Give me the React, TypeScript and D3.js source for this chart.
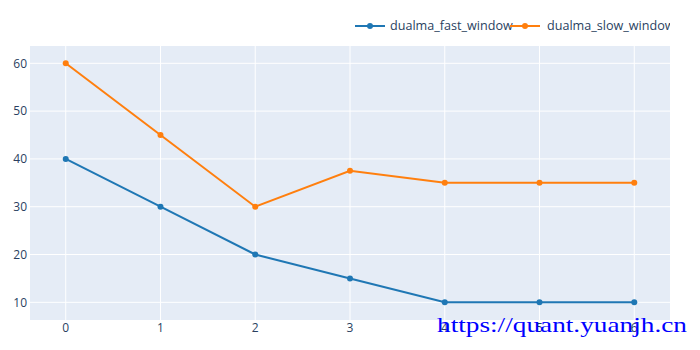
import React from "react";
import * as d3 from "d3";

const xValues = [0, 1, 2, 3, 4, 5, 6];
const fastWindow = [40, 30, 20, 15, 10, 10, 10];
const slowWindow = [60, 45, 30, 37.5, 35, 35, 35];
const seriesNames = ["dualma_fast_window", "dualma_slow_window"];
const seriesColors = ["#1f77b4", "#ff7f0e"];
const yTicks = [10, 20, 30, 40, 50, 60];
const xTicks = [0, 1, 2, 3, 4, 5, 6];
const watermark = "https://quant.yuanjh.cn";

const W = 700;
const H = 350;
const plot = { left: 30, right: 670, top: 46, bottom: 320 };

export default function App() {
  const x = d3.scaleLinear().domain([-0.377, 6.377]).range([plot.left, plot.right]);
  const y = d3.scaleLinear().domain([6.3, 63.62]).range([plot.bottom, plot.top]);
  const line = d3
    .line<number>()
    .x((_, i) => x(xValues[i]))
    .y((d) => y(d));
  const series = [fastWindow, slowWindow];
  const font = "'Open Sans', sans-serif";
  const legendX = [355, 510];
  const legendTextX = [35, 37];

  return (
    <svg
      width={W}
      height={H}
      style={{ position: "absolute", left: 0, top: 0, background: "#fff" }}
    >
      <defs>
        <clipPath id="legclip">
          <rect x={0} y={0} width={670} height={45} />
        </clipPath>
      </defs>
      <rect
        x={plot.left}
        y={plot.top}
        width={plot.right - plot.left}
        height={plot.bottom - plot.top}
        fill="#E5ECF6"
      />
      {xTicks.map((t) => (
        <line
          key={"gx" + t}
          x1={x(t)}
          x2={x(t)}
          y1={plot.top}
          y2={plot.bottom}
          stroke="#fff"
          strokeWidth={1}
        />
      ))}
      {yTicks.map((t) => (
        <line
          key={"gy" + t}
          x1={plot.left}
          x2={plot.right}
          y1={y(t)}
          y2={y(t)}
          stroke="#fff"
          strokeWidth={1}
        />
      ))}
      {yTicks.map((t) => (
        <text
          key={"ty" + t}
          x={plot.left - 3}
          y={y(t)}
          dy="0.35em"
          textAnchor="end"
          fontFamily={font}
          fontSize={12}
          fill="#2a3f5f"
        >
          {t}
        </text>
      ))}
      {xTicks.map((t) => (
        <text
          key={"tx" + t}
          x={x(t)}
          y={332}
          textAnchor="middle"
          fontFamily={font}
          fontSize={12}
          fill="#2a3f5f"
        >
          {t}
        </text>
      ))}
      {series.map((s, si) => (
        <g key={"s" + si}>
          <path d={line(s) || ""} fill="none" stroke={seriesColors[si]} strokeWidth={2} />
          {s.map((v, i) => (
            <circle key={i} cx={x(xValues[i])} cy={y(v)} r={3} fill={seriesColors[si]} />
          ))}
        </g>
      ))}
      <g clipPath="url(#legclip)">
        {seriesNames.map((n, i) => (
          <g key={"l" + i} transform={`translate(${legendX[i]},26)`}>
            <line x1={0} x2={30} y1={0} y2={0} stroke={seriesColors[i]} strokeWidth={2} />
            <circle cx={15} cy={0} r={3} fill={seriesColors[i]} />
            <text
              x={legendTextX[i]}
              y={0}
              dy="0.35em"
              fontFamily={font}
              fontSize={12.6}
              fill="#2a3f5f"
            >
              {n}
            </text>
          </g>
        ))}
      </g>
      <text
        x={437}
        y={332}
        fontFamily="'Liberation Serif', 'Times New Roman', serif"
        fontSize={22}
        fill="#0000ff"
        textLength={250}
        lengthAdjust="spacingAndGlyphs"
      >
        {watermark}
      </text>
    </svg>
  );
}
